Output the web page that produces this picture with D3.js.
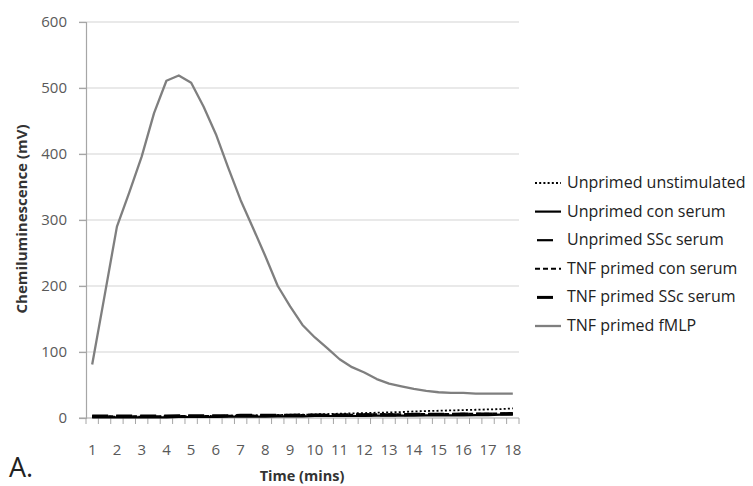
<!DOCTYPE html>
<html>
<head>
<meta charset="utf-8">
<script src="https://cdn.jsdelivr.net/npm/d3@7"></script>
<style>
  body { margin: 0; background: #fff; }
  text { font-family: "Open Sans", Lato, sans-serif; }
</style>
</head>
<body>
<div id="chart"></div>
<script>
// time points every half minute, 1 .. 18
var times = [1, 1.5, 2, 2.5, 3, 3.5, 4, 4.5, 5, 5.5, 6, 6.5, 7, 7.5, 8, 8.5, 9, 9.5,
             10, 10.5, 11, 11.5, 12, 12.5, 13, 13.5, 14, 14.5, 15, 15.5, 16, 16.5, 17, 17.5, 18];
var tickLabels = [1, 2, 3, 4, 5, 6, 7, 8, 9, 10, 11, 12, 13, 14, 15, 16, 17, 18];
var yTicks = [0, 100, 200, 300, 400, 500, 600];

var unprimedUnstim = [2, 2, 2, 2, 2, 2, 2.5, 2.5, 3, 3, 3, 3.5, 3.5, 4, 4, 4.5, 5, 5, 5.5, 6,
                      6.5, 7, 7.5, 8, 8.5, 9, 10, 10.5, 11, 11.5, 12, 12.5, 13, 13.5, 14.5];
var unprimedCon = [1, 1, 1, 1, 1, 1, 1, 1.5, 1.5, 1.5, 1.5, 2, 2, 2, 2, 2.5, 2.5, 2.5, 3, 3,
                   3, 3, 3, 3.5, 3.5, 3.5, 3.5, 4, 4, 4, 4, 4.5, 4.5, 5, 5];
var unprimedSSc = [2, 2, 2, 2, 2, 2, 2, 2, 2.5, 2.5, 2.5, 3, 3, 3, 3, 3.5, 3.5, 3.5, 4, 4,
                   4, 4, 4.5, 4.5, 4.5, 4.5, 5, 5, 5, 5, 5.5, 5.5, 5.5, 6, 6];
var tnfCon = [2.5, 2.5, 2.5, 2.5, 2.5, 2.5, 3, 3, 3, 3, 3, 3.5, 3.5, 3.5, 4, 4, 4, 4.5, 4.5, 5,
              5, 5, 5.5, 5.5, 5.5, 5.5, 6, 6, 6, 6, 6.5, 6.5, 6.5, 7, 7];
var tnfSSc = [3, 3, 3, 3, 3, 3, 3, 3.5, 3.5, 3.5, 3.5, 3.5, 4, 4, 4, 4, 4, 4.5, 4.5, 4.5,
              4.5, 5, 5, 5, 5, 5, 5.5, 5.5, 5.5, 5.5, 6, 6, 6, 6.5, 7];
var tnfFmlp = [81, 185, 290, 342, 396, 462, 511, 519, 508, 472, 430, 379, 330, 288, 245, 200, 169, 141,
               122, 106, 89, 77, 69, 59, 52, 48, 44, 41, 39, 38, 38, 37, 37, 37, 37];

var seriesNames = ["Unprimed unstimulated", "Unprimed con serum", "Unprimed SSc serum",
                   "TNF primed con serum", "TNF primed SSc serum", "TNF primed fMLP"];
var seriesValues = [unprimedUnstim, unprimedCon, unprimedSSc, tnfCon, tnfSSc, tnfFmlp];
var seriesStyle = [
  {stroke: "#000", width: 1.8, dash: "2,2.2"},
  {stroke: "#000", width: 2.2, dash: null},
  {stroke: "#000", width: 2.2, dash: "16,8"},
  {stroke: "#000", width: 2, dash: "5,3"},
  {stroke: "#000", width: 3, dash: "16,8"},
  {stroke: "#7f7f7f", width: 2.3, dash: null}
];

var W = 753, H = 486;
var plotL = 86, plotR = 519, plotT = 22, plotB = 418;

var svg = d3.select("#chart").append("svg")
    .attr("width", W)
    .attr("height", H);

var x = d3.scaleBand()
    .domain(times)
    .range([plotL, plotR]);
var y = d3.scaleLinear()
    .domain([0, 600])
    .range([plotB, plotT]);

// gridlines
svg.append("g")
    .selectAll("line")
    .data(yTicks.filter(function (d) { return d > 0; }))
    .enter().append("line")
    .attr("x1", plotL - 7)
    .attr("x2", plotR)
    .attr("y1", function (d) { return y(d); })
    .attr("y2", function (d) { return y(d); })
    .attr("stroke", "#d4d4d4")
    .attr("stroke-width", 1.2);

// y axis
var yAxis = svg.append("g")
    .attr("transform", "translate(" + plotL + ",0)")
    .call(d3.axisLeft(y).tickValues(yTicks).tickSize(7).tickPadding(12));
yAxis.select(".domain").attr("stroke", "#a6a6a6").attr("stroke-width", 1.2);
yAxis.selectAll(".tick line").attr("stroke", "#a6a6a6").attr("stroke-width", 1.2);
yAxis.selectAll("text")
    .attr("fill", "#595959")
    .style("font-size", "15px")
    .style("font-family", "'Open Sans', sans-serif");

// x axis line and category tick marks
svg.append("line")
    .attr("x1", plotL - 7).attr("x2", plotR)
    .attr("y1", plotB).attr("y2", plotB)
    .attr("stroke", "#a6a6a6").attr("stroke-width", 1.2);
var edges = times.map(function (d) { return x(d); }).concat([plotR]);
svg.append("g")
    .selectAll("line")
    .data(edges)
    .enter().append("line")
    .attr("x1", function (d) { return d; })
    .attr("x2", function (d) { return d; })
    .attr("y1", plotB)
    .attr("y2", plotB + 6)
    .attr("stroke", "#a6a6a6")
    .attr("stroke-width", 1);

svg.append("g")
    .selectAll("text")
    .data(tickLabels)
    .enter().append("text")
    .attr("x", function (d) { return x(d) + x.bandwidth() / 2; })
    .attr("y", 455)
    .attr("text-anchor", "middle")
    .attr("fill", "#595959")
    .style("font-size", "15px")
    .text(function (d) { return d; });

// lines
var line = d3.line()
    .x(function (d, i) { return x(times[i]) + x.bandwidth() / 2; })
    .y(function (d) { return y(d); });

svg.append("g")
    .selectAll("path")
    .data(seriesValues)
    .enter().append("path")
    .attr("d", function (d) { return line(d); })
    .attr("fill", "none")
    .attr("stroke", function (d, i) { return seriesStyle[i].stroke; })
    .attr("stroke-width", function (d, i) { return seriesStyle[i].width; })
    .attr("stroke-dasharray", function (d, i) { return seriesStyle[i].dash; })
    .attr("stroke-linejoin", "round");

// axis titles
svg.append("text")
    .attr("x", 302)
    .attr("y", 481)
    .attr("text-anchor", "middle")
    .attr("font-weight", "bold")
    .attr("fill", "#333")
    .style("font-size", "14.5px")
    .text("Time (mins)");

svg.append("text")
    .attr("transform", "translate(27,219) rotate(-90)")
    .attr("text-anchor", "middle")
    .attr("font-weight", "bold")
    .attr("fill", "#333")
    .style("font-size", "15px")
    .text("Chemiluminescence (mV)");

svg.append("text")
    .attr("x", 9)
    .attr("y", 477)
    .attr("fill", "#222")
    .style("font-size", "27px")
    .text("A.");

// legend
var legend = svg.append("g")
    .selectAll("g")
    .data(seriesNames)
    .enter().append("g")
    .attr("transform", function (d, i) { return "translate(535," + (183 + i * 28.6) + ")"; });

legend.append("line")
    .attr("x1", function (d, i) { return seriesStyle[i].dash === "16,8" ? 2 : 0; })
    .attr("x2", 26)
    .attr("y1", 0).attr("y2", 0)
    .attr("stroke", function (d, i) { return seriesStyle[i].stroke; })
    .attr("stroke-width", function (d, i) { return seriesStyle[i].width; })
    .attr("stroke-dasharray", function (d, i) { return seriesStyle[i].dash; });

legend.append("text")
    .attr("x", 32)
    .attr("y", 5)
    .attr("fill", "#222")
    .style("font-size", "16px")
    .text(function (d) { return d; });
</script>
</body>
</html>
